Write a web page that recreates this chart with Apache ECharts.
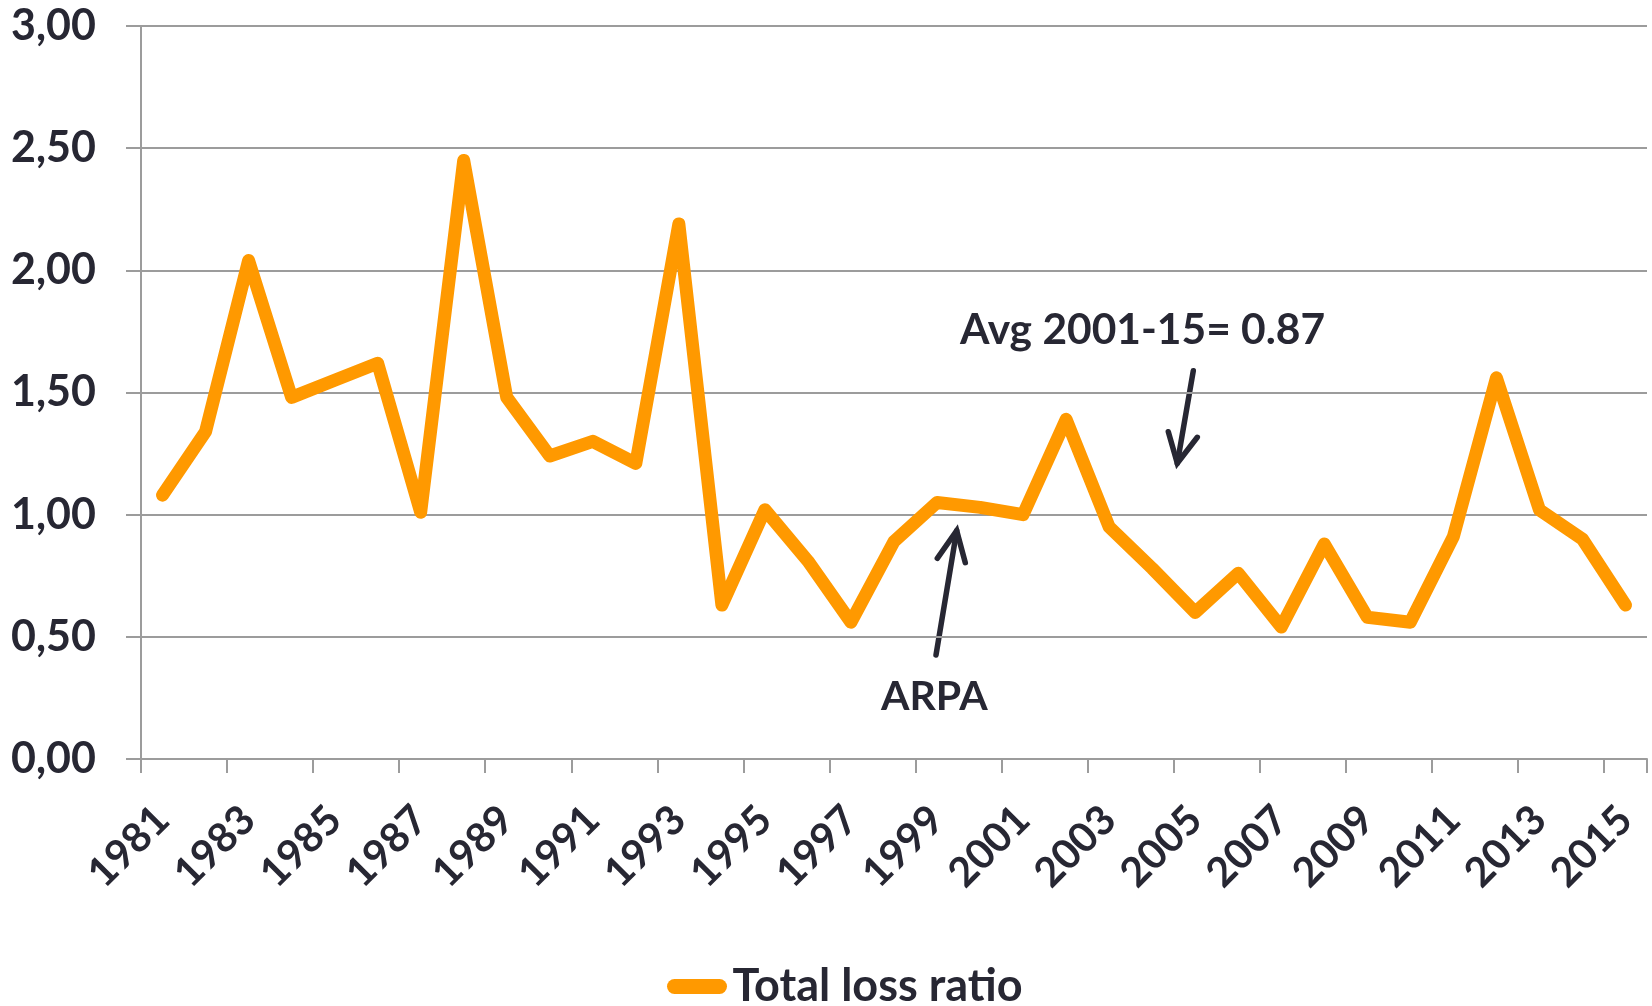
<!DOCTYPE html>
<html>
<head>
<meta charset="utf-8">
<script src="https://cdn.jsdelivr.net/npm/echarts@6/dist/echarts.min.js"></script>
<style>
html,body{margin:0;padding:0;background:#fff;}
#chart{width:1652px;height:1006px;}
</style>
</head>
<body>
<div id="chart"></div>
<script>
const years = ['1981','1982','1983','1984','1985','1986','1987','1988','1989','1990','1991','1992','1993','1994','1995','1996','1997','1998','1999','2000','2001','2002','2003','2004','2005','2006','2007','2008','2009','2010','2011','2012','2013','2014','2015'];
const totalLossRatio = [1.08,1.34,2.04,1.48,1.55,1.62,1.01,2.45,1.48,1.24,1.30,1.21,2.19,0.63,1.02,0.81,0.56,0.89,1.05,1.03,1.00,1.39,0.95,0.78,0.60,0.76,0.54,0.88,0.58,0.56,0.91,1.56,1.02,0.90,0.63];
const seriesName = 'Total loss ratio';
const avgText = 'Avg 2001-15= 0.87';
const arpaText = 'ARPA';

const textColor = '#272733';
const gridColor = '#9c9c9c';
const lineColor = '#ff9900';
const font = 'Lato, "Open Sans", sans-serif';

const chart = echarts.init(document.getElementById('chart'), null, {renderer: 'canvas'});
const option = {
  animation: false,
  backgroundColor: '#ffffff',
  grid: {left: 141, right: 5, top: 26, bottom: 247, containLabel: false},
  legend: {
    data: [seriesName],
    left: 667,
    top: 964,
    padding: 0,
    itemWidth: 61,
    itemHeight: 15,
    itemGap: 0,
    icon: 'path://M7.5,0 H52.5 A7.5,7.5 0 0 1 52.5,15 H7.5 A7.5,7.5 0 0 1 7.5,0 Z',
    itemStyle: {color: lineColor},
    textStyle: {color: textColor, fontFamily: font, fontWeight: 'bold', fontSize: 45, padding: [0,0,0,0]}
  },
  xAxis: {
    type: 'category',
    data: years,
    boundaryGap: true,
    axisLine: {show: true, lineStyle: {color: gridColor, width: 2}},
    axisTick: {show: true, length: 14, lineStyle: {color: gridColor, width: 2}},
    axisLabel: {
      interval: 1,
      rotate: 45,
      margin: 54,
      color: textColor,
      fontFamily: font,
      fontWeight: 'bold',
      fontSize: 41
    },
    splitLine: {show: false}
  },
  yAxis: {
    type: 'value',
    min: 0,
    max: 3,
    interval: 0.5,
    axisLine: {show: true, lineStyle: {color: gridColor, width: 2}},
    axisTick: {show: true, length: 15, lineStyle: {color: gridColor, width: 2}},
    axisLabel: {
      margin: 45,
      color: textColor,
      fontFamily: font,
      fontWeight: 'bold',
      fontSize: 43,
      formatter: v => v.toFixed(2).replace('.', ',')
    },
    splitLine: {show: true, lineStyle: {color: gridColor, width: 2}}
  },
  series: [{
    name: seriesName,
    type: 'line',
    data: totalLossRatio,
    symbol: 'none',
    lineStyle: {color: lineColor, width: 13, cap: 'round', join: 'round'},
    itemStyle: {color: lineColor}
  }],
  graphic: [
    {type: 'text', left: 960, top: 309, style: {text: avgText, fill: textColor, font: 'bold 42.5px ' + font}},
    {type: 'text', left: 881, top: 676, style: {text: arpaText, fill: textColor, font: 'bold 41px ' + font}},
    {type: 'polyline', shape: {points: [[936,655],[956.7,530.7]]}, style: {stroke: textColor, lineWidth: 5.5, lineCap: 'round', fill: null}},
    {type: 'polyline', shape: {points: [[937.3,558.3],[956.7,530.7],[965.3,562.7]]}, style: {stroke: textColor, lineWidth: 5.5, lineCap: 'round', lineJoin: 'miter', fill: null}},
    {type: 'polyline', shape: {points: [[1193.3,370.7],[1177.3,463.3]]}, style: {stroke: textColor, lineWidth: 5.5, lineCap: 'round', fill: null}},
    {type: 'polyline', shape: {points: [[1168.3,431.7],[1177.3,463.3],[1197.3,437.3]]}, style: {stroke: textColor, lineWidth: 5.5, lineCap: 'round', lineJoin: 'miter', fill: null}}
  ]
};
chart.setOption(option);
</script>
</body>
</html>
